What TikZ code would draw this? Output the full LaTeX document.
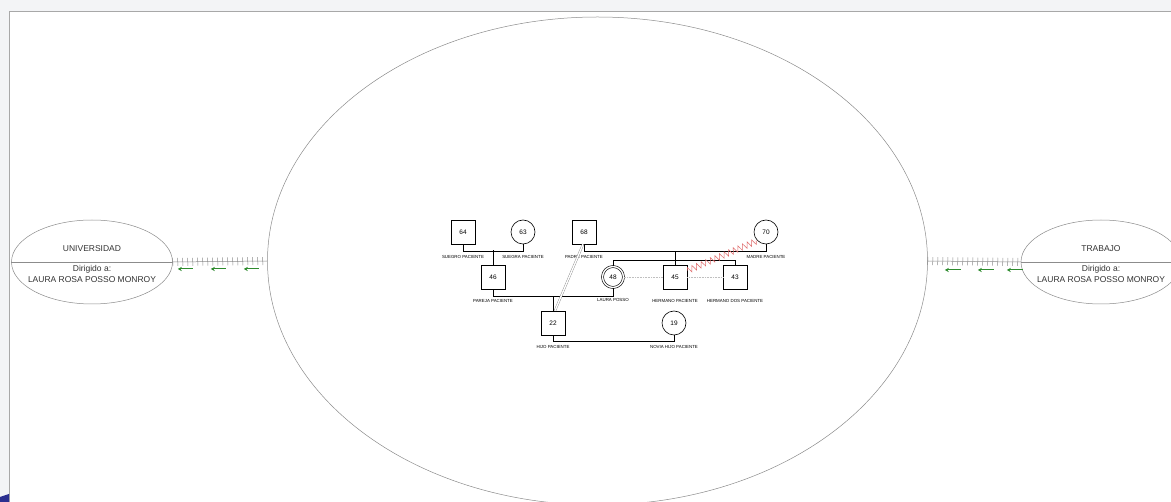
\documentclass[tikz,border=0pt]{standalone}
\usepackage{fontspec}
\setmainfont{Liberation Sans}
\usepackage{xcolor}
\usetikzlibrary{positioning,shapes.geometric,arrows.meta,decorations.pathmorphing,decorations.pathreplacing}
\definecolor{pagegrey}{HTML}{F3F4F6}
\definecolor{framegrey}{HTML}{A8A8A8}
\definecolor{linegrey}{HTML}{8C8C8C}
\definecolor{textgrey}{HTML}{333333}
\definecolor{arrowgreen}{HTML}{2E8B2E}
\definecolor{conflictred}{HTML}{E06A6A}
\definecolor{cornerblue}{HTML}{2B2F8F}

\begin{document}
\begin{tikzpicture}[x=1pt, y=-1pt,
    male/.style={draw, rectangle, minimum size=24pt, inner sep=0pt, line width=0.6pt, font=\fontsize{6.5}{7}\selectfont},
    female/.style={draw, circle, minimum size=24pt, inner sep=0pt, line width=0.6pt, font=\fontsize{6.5}{7}\selectfont},
    tag/.style={inner sep=0pt, font=\fontsize{4.4}{5}\selectfont},
    kin/.style={line width=0.9pt},
    sphere/.style={draw=linegrey, ellipse, line width=0.5pt, inner sep=0pt},
    spheretext/.style={text=textgrey, align=center, font=\fontsize{8.5}{11.5}\selectfont},
    fenceline/.style={draw=linegrey, line width=0.5pt},
    fenceticks/.style={draw=linegrey, line width=0.5pt, decorate, decoration={ticks, segment length=5pt, amplitude=4pt}},
    flow/.style={draw=arrowgreen, line width=1pt, -{Stealth[length=4pt, width=4pt]}}]
    % page and frame
    \clip (0,0) rectangle (1171,502);
    \fill[pagegrey] (0,0) rectangle (1171,502);
    \fill[white] (9,11) rectangle (1171,502);
    \draw[framegrey, line width=0.8pt] (9,502) -- (9,11) -- (1171,11);
    \fill[cornerblue] (0,497) -- (9,494) -- (9,502) -- (0,502) -- cycle;

    \node[sphere, minimum width=660pt, minimum height=488pt] (familia) at (597.5,261) {};
    \node[sphere, minimum width=161pt, minimum height=84pt] (uni) at (92,262) {};
    \node[sphere, minimum width=160pt, minimum height=84pt] (trabajo) at (1101,262) {};
    \draw[linegrey, line width=0.5pt] (uni.west) -- (uni.east);
    \draw[linegrey, line width=0.5pt] (trabajo.west) -- (trabajo.east);
    \node[spheretext] (uni-t) at ([yshift=13pt]uni.center) {UNIVERSIDAD};
    \node[spheretext] (uni-d) at ([yshift=-12pt]uni.center) {Dirigido a:\\LAURA ROSA POSSO MONROY};
    \node[spheretext] (trabajo-t) at ([yshift=13pt]trabajo.center) {TRABAJO};
    \node[spheretext] (trabajo-d) at ([yshift=-12pt]trabajo.center) {Dirigido a:\\LAURA ROSA POSSO MONROY};

    \draw[fenceline] (uni.east) -- (familia.west);
    \draw[fenceticks] (uni.east) -- (familia.west);
    \draw[fenceline] (familia.east) -- (trabajo.west);
    \draw[fenceticks] (familia.east) -- (trabajo.west);
    \foreach \dx in {20,53,86}
        \draw[flow] ([xshift=\dx pt, yshift=-7pt]uni.east) -- ++(-15,0);
    \foreach \dx in {33,66,95}
        \draw[flow] ([xshift=\dx pt, yshift=-9pt]familia.east) -- ++(-16,0);

    \node[male] (suegro) at (463,232) {64};
    \node[female] (suegra) at (523,232) {63};
    \node[male] (padre) at (584,232) {68};
    \node[female] (madre) at (766,232) {70};
    \node[male] (pareja) at (493,277) {46};
    \node[female, minimum size=21pt, double, double distance=1.4pt] (laura) at (613,277) {48};
    \node[male] (hermano) at (675,277) {45};
    \node[male] (hermanodos) at (735,277) {43};
    \node[male] (hijo) at (553,323) {22};
    \node[female] (novia) at (674,323) {19};

    \node[tag, below=11pt of suegro] (suegro-l) {SUEGRO PACIENTE};
    \node[tag, below=11pt of suegra] (suegra-l) {SUEGRA PACIENTE};
    \node[tag, below=11pt of padre] (padre-l) {PADRE PACIENTE};
    \node[tag, below=11pt of madre] (madre-l) {MADRE PACIENTE};
    \node[tag, below=10pt of pareja] (pareja-l) {PAREJA PACIENTE};
    \node[tag, below=10pt of laura] (laura-l) {LAURA POSSO};
    \node[tag, below=10pt of hermano] (hermano-l) {HERMANO PACIENTE};
    \node[tag, below=10pt of hermanodos] (hermanodos-l) {HERMANO DOS PACIENTE};
    \node[tag, below=10pt of hijo] (hijo-l) {HIJO PACIENTE};
    \node[tag, below=10pt of novia] (novia-l) {NOVIA HIJO PACIENTE};

    \draw[kin] (suegro.south) -- ++(0,7) -| (suegra.south);
    \draw[kin] (pareja.north) -- ++(0,-15);
    \draw[kin] (padre.south) -- ++(0,7) -| (madre.south);
    \draw[kin] (laura.north) -- ++(0,-6) -| (hermanodos.north);
    \draw[kin] (hermano.north) -- ++(0,-14);
    \draw[kin] (pareja.south) -- ++(0,7) -| (laura.south);
    \draw[kin] (hijo.north) -- ++(0,-15);
    \draw[kin] (hijo.south) -- ++(0,6) -| (novia.south);

    \draw[gray!50, densely dotted, line width=0.6pt] (laura) -- (hermano);
    \draw[gray!50, densely dotted, line width=0.6pt] (hermano) -- (hermanodos);
    \draw[gray, line width=0.35pt, double, double distance=1.4pt] ([xshift=-1pt]padre.south) -- ([xshift=2pt]hijo.north);
    \draw[conflictred, line width=0.5pt, decorate, decoration={zigzag, segment length=5pt, amplitude=3pt}] ([yshift=-6pt]hermano.north east) -- (madre.south west);
\end{tikzpicture}
\end{document}
